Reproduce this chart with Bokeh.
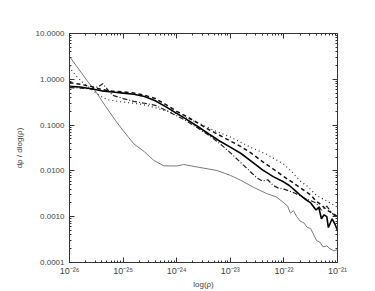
from bokeh.plotting import figure
from bokeh.models import LogAxis, FixedTicker, CustomJSTickFormatter, Range1d
from bokeh.embed import file_html
from bokeh.resources import INLINE

# ---- data (log10 of density, dp/dlog(p)) ----
gray_lx = [-26.0, -25.67, -25.5, -25.32, -25.14, -25.0, -24.8, -24.6, -24.43, -24.24, -24.0,
           -23.87, -23.72, -23.5, -23.25, -23.0, -22.8, -22.57, -22.32, -22.14, -22.0,
           -21.93, -21.88, -21.82, -21.76, -21.7, -21.62, -21.57, -21.5, -21.45, -21.39,
           -21.33, -21.27, -21.2, -21.14, -21.07, -21.0]
gray_y = [3.15, 0.93, 0.52, 0.25, 0.125, 0.076, 0.039, 0.026, 0.017, 0.0129, 0.0128,
          0.0138, 0.0128, 0.0115, 0.0102, 0.0080, 0.0062, 0.0044, 0.0032, 0.0027, 0.0020,
          0.0017, 0.0012, 0.00135, 0.0010, 0.00081, 0.00072, 0.00059, 0.00055, 0.00042, 0.00030,
          0.00028, 0.00022, 0.00023, 0.00020, 0.00018, 0.00019]

solid_lx = [-26.0, -25.8, -25.6, -25.4, -25.2, -25.0, -24.8, -24.6, -24.4, -24.2, -24.0,
            -23.8, -23.6, -23.4, -23.2, -23.0, -22.8, -22.6, -22.4, -22.2, -22.0, -21.9,
            -21.8, -21.7, -21.6, -21.5, -21.4, -21.35, -21.3, -21.25, -21.2, -21.17, -21.1,
            -21.05, -21.0]
solid_y = [0.70, 0.68, 0.62, 0.56, 0.53, 0.50, 0.47, 0.42, 0.34, 0.25, 0.18,
           0.13, 0.092, 0.064, 0.045, 0.033, 0.024, 0.016, 0.0105, 0.0075, 0.0057, 0.0048,
           0.0038, 0.0030, 0.0024, 0.0020, 0.0014, 0.0016, 0.0009, 0.0011, 0.0010, 0.00058, 0.0009,
           0.0007, 0.0005]

dash_lx = [-26.0, -25.8, -25.6, -25.4, -25.2, -25.0, -24.8, -24.6, -24.4, -24.2, -24.0,
           -23.8, -23.6, -23.4, -23.2, -23.0, -22.8, -22.6, -22.4, -22.2, -22.0, -21.8,
           -21.6, -21.5, -21.4, -21.3, -21.2, -21.1, -21.0]
dash_y = [0.85, 0.78, 0.70, 0.60, 0.55, 0.53, 0.50, 0.45, 0.38, 0.28, 0.20,
          0.15, 0.11, 0.080, 0.060, 0.045, 0.034, 0.024, 0.016, 0.011, 0.0075, 0.0052,
          0.0036, 0.0030, 0.0022, 0.0018, 0.0014, 0.0012, 0.0010]

dashdot_lx = [-26.0, -25.8, -25.6, -25.45, -25.38, -25.3, -25.2, -25.0, -24.8, -24.6, -24.4,
              -24.2, -24.0, -23.8, -23.6, -23.4, -23.2, -23.0, -22.8, -22.6, -22.5, -22.4,
              -22.3, -22.2, -22.1, -22.0, -21.8, -21.6, -21.4, -21.3, -21.2, -21.1, -21.0]
dashdot_y = [0.66, 0.64, 0.62, 0.70, 0.80, 0.62, 0.45, 0.38, 0.33, 0.30, 0.27,
             0.21, 0.16, 0.12, 0.085, 0.060, 0.040, 0.025, 0.015, 0.0090, 0.0070, 0.0060,
             0.0064, 0.0048, 0.0042, 0.0040, 0.0033, 0.0025, 0.0020, 0.0014, 0.0017, 0.0012, 0.0009]

dot_lx = [-26.0, -25.95, -25.85, -25.75, -25.6, -25.45, -25.3, -25.1, -24.9, -24.7, -24.5,
          -24.3, -24.0, -23.8, -23.56, -23.3, -23.0, -22.8, -22.63, -22.32, -22.0, -21.85,
          -21.7, -21.55, -21.39, -21.2, -21.0]
dot_y = [1.9, 1.5, 1.1, 0.85, 0.62, 0.45, 0.36, 0.33, 0.31, 0.29, 0.26,
         0.22, 0.18, 0.14, 0.107, 0.076, 0.055, 0.042, 0.033, 0.023, 0.014, 0.0095,
         0.0061, 0.0045, 0.0029, 0.0022, 0.0016]

x_decades = [-26, -25, -24, -23, -22, -21]
y_decades = [-4, -3, -2, -1, 0, 1]


def to_rho(lx):
    return [10.0 ** v for v in lx]


x_major = [10.0 ** d for d in x_decades]
x_minor = [m * 10.0 ** d for d in x_decades[:-1] for m in range(1, 10)]
y_major = [10.0 ** d for d in y_decades]
y_minor = [m * 10.0 ** d for d in y_decades[:-1] for m in range(1, 10)]

FONT = "Liberation Sans"
TXT = "#444444"
AX = "#333333"

p = figure(frame_width=268, frame_height=229, x_axis_type="log", y_axis_type="log",
           x_range=Range1d(1e-26, 1e-21), y_range=Range1d(1e-4, 10),
           output_backend="svg", toolbar_location=None,
           min_border_left=69, min_border_right=30, min_border_top=33, min_border_bottom=27)
p.grid.visible = False
p.outline_line_color = None
p.background_fill_color = "white"
p.border_fill_color = "white"

xfmt = CustomJSTickFormatter(code="""
const sup = {'-':'\u207b','0':'\u2070','1':'\u00b9','2':'\u00b2','3':'\u00b3','4':'\u2074','5':'\u2075','6':'\u2076','7':'\u2077','8':'\u2078','9':'\u2079'};
const e = Math.round(Math.log10(tick)).toString();
let s = '';
for (const c of e) s += sup[c];
return '10' + s;
""")
yfmt = CustomJSTickFormatter(code="return tick.toFixed(4);")


def style(ax, labels=True):
    ax.axis_line_color = AX
    ax.axis_line_width = 1
    ax.major_tick_line_color = AX
    ax.minor_tick_line_color = AX
    ax.major_tick_in = 5
    ax.major_tick_out = 0
    ax.minor_tick_in = 2
    ax.minor_tick_out = 0
    ax.major_label_text_font = FONT
    ax.major_label_text_font_size = "8px"
    ax.major_label_text_color = TXT
    ax.axis_label_text_font = FONT
    ax.axis_label_text_font_size = "8px"
    ax.axis_label_text_color = TXT
    ax.axis_label_text_font_style = "normal"
    if not labels:
        ax.major_label_text_font_size = "0px"
        ax.major_label_text_alpha = 0


xb = p.xaxis[0]
xb.ticker = FixedTicker(ticks=x_major, minor_ticks=x_minor)
xb.formatter = xfmt
xb.axis_label = "log(\u03c1)"
style(xb)
xb.major_label_text_font_size = "9px"
xb.major_label_standoff = 3
xb.axis_label_standoff = 1

yl = p.yaxis[0]
yl.ticker = FixedTicker(ticks=y_major, minor_ticks=y_minor)
yl.formatter = yfmt
yl.axis_label = "d\u03c1 / dlog(\u03c1)"
style(yl)
yl.major_label_standoff = 5
yl.axis_label_standoff = 9

xt = LogAxis(ticker=FixedTicker(ticks=x_major, minor_ticks=x_minor))
style(xt, labels=False)
p.add_layout(xt, "above")
yr = LogAxis(ticker=FixedTicker(ticks=y_major, minor_ticks=y_minor))
style(yr, labels=False)
p.add_layout(yr, "right")

p.line(to_rho(gray_lx), gray_y, line_color="#7a7a7a", line_width=1)
p.line(to_rho(dot_lx), dot_y, line_color="#333333", line_width=1.2, line_dash="1 3")
p.line(to_rho(dashdot_lx), dashdot_y, line_color="#222222", line_width=1.2, line_dash="5 2 1 2")
p.line(to_rho(dash_lx), dash_y, line_color="#111111", line_width=1.5, line_dash="4 3")
p.line(to_rho(solid_lx), solid_y, line_color="#000000", line_width=1.6)

open("out.html", "w").write(file_html(p, INLINE))
